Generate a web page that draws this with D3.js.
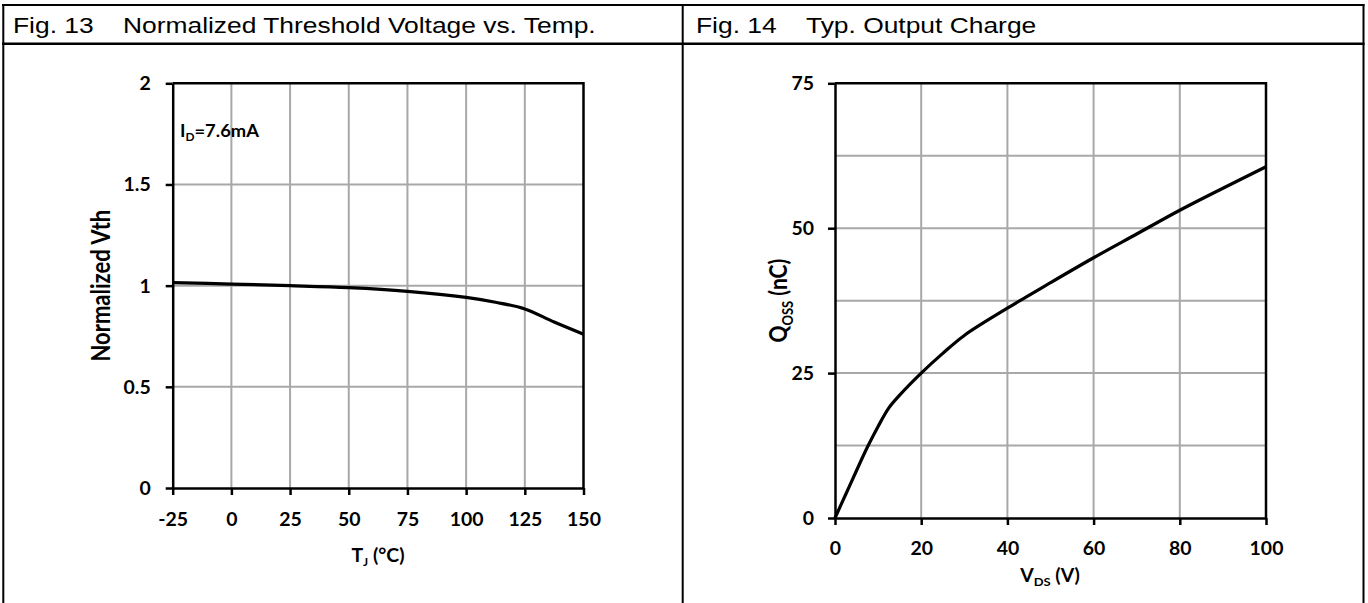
<!DOCTYPE html>
<html>
<head>
<meta charset="utf-8">
<script src="https://cdn.jsdelivr.net/npm/d3@7"></script>
<style>
  html, body { margin: 0; padding: 0; background: #fff; }
  svg { display: block; }
</style>
</head>
<body>
<script>
// ---- Fig. 13: normalized threshold voltage vs. junction temperature ----
const tempC   = [-25, 0, 25, 50, 75, 100, 112.5, 125, 137.5, 150];
const vthNorm = [1.015, 1.008, 1.0, 0.99, 0.972, 0.942, 0.918, 0.885, 0.82, 0.76];
const tempTicks = [-25, 0, 25, 50, 75, 100, 125, 150];
const vthTicks  = [0, 0.5, 1, 1.5, 2];

// ---- Fig. 14: typical output charge vs. drain-source voltage ----
const vds  = [0, 2.5, 5, 7.5, 10, 12.5, 15, 20, 25, 30, 40, 50, 60, 70, 80, 90, 100];
const qoss = [0, 4.1, 8.2, 12.2, 15.8, 19.0, 21.2, 25.0, 28.4, 31.5, 36.2, 40.6, 44.9, 49.0, 53.1, 56.9, 60.6];
const vdsTicks   = [0, 20, 40, 60, 80, 100];
const qossTicks  = [0, 25, 50, 75];
const qossGrid   = [12.5, 25, 37.5, 50, 62.5];

const W = 1368, H = 603;
const SX_HEAD = 1.2;        // horizontal stretch of header text
const SX = 1.08;            // horizontal stretch of chart labels
const FONT = "Lato, 'Open Sans', sans-serif";
const HEAD_FONT = "'Liberation Sans', Arial, sans-serif";
const GRID = "#a8a8a8";

const svg = d3.select("body").append("svg").attr("width", W).attr("height", H);

// text helper: places a horizontally stretched text at (x, y)
function stext(parent, x, y, anchor, size, weight, family, sx = SX) {
  return parent.append("text")
    .attr("transform", `translate(${x},${y}) scale(${sx},1)`)
    .attr("text-anchor", anchor)
    .attr("font-size", size)
    .attr("font-weight", weight)
    .attr("font-family", family)
    .attr("fill", "#000");
}

// plain hyphen for negative numbers
const fmtInt = d => String(d);

// ---- table frame ----
const frame = svg.append("g").attr("stroke", "#000").attr("fill", "none");
frame.append("line").attr("x1", 2).attr("x2", 1364.5).attr("y1", 5).attr("y2", 5).attr("stroke-width", 2);
frame.append("line").attr("x1", 2).attr("x2", 1364.5).attr("y1", 43.7).attr("y2", 43.7).attr("stroke-width", 2.5);
frame.append("line").attr("x1", 3.3).attr("x2", 3.3).attr("y1", 4).attr("y2", H).attr("stroke-width", 2);
frame.append("line").attr("x1", 682.7).attr("x2", 682.7).attr("y1", 4).attr("y2", H).attr("stroke-width", 2);
frame.append("line").attr("x1", 1363.5).attr("x2", 1363.5).attr("y1", 4).attr("y2", H).attr("stroke-width", 2);

stext(svg, 13, 33, "start", 22, "normal", HEAD_FONT, SX_HEAD).text("Fig. 13");
stext(svg, 123, 33, "start", 22, "normal", HEAD_FONT, SX_HEAD).text("Normalized Threshold Voltage vs. Temp.");
stext(svg, 696, 33, "start", 22, "normal", HEAD_FONT, SX_HEAD).text("Fig. 14");
stext(svg, 806, 33, "start", 22, "normal", HEAD_FONT, SX_HEAD).text("Typ. Output Charge");

// ---- generic chart drawer ----
function drawChart(cfg) {
  const g = svg.append("g");
  const { x, y } = cfg;
  const [x0, x1] = x.range(), [y0, y1] = y.range();

  // gridlines
  g.append("g").selectAll("line").data(cfg.xGrid).join("line")
    .attr("x1", d => x(d)).attr("x2", d => x(d)).attr("y1", y0).attr("y2", y1)
    .attr("stroke", GRID).attr("stroke-width", 2);
  g.append("g").selectAll("line").data(cfg.yGrid).join("line")
    .attr("x1", x0).attr("x2", x1).attr("y1", d => y(d)).attr("y2", d => y(d))
    .attr("stroke", GRID).attr("stroke-width", 2);

  // axes
  const ax = g.append("g").attr("transform", `translate(0,${y0})`)
    .call(d3.axisBottom(x).tickValues(cfg.xTicks).tickSize(7).tickSizeOuter(0).tickFormat(fmtInt));
  const ay = g.append("g").attr("transform", `translate(${x0},0)`)
    .call(d3.axisLeft(y).tickValues(cfg.yTicks).tickSize(7).tickSizeOuter(0).tickFormat(fmtInt));
  [ax, ay].forEach(a => {
    a.select(".domain").attr("stroke", "#000").attr("stroke-width", 2.5);
    a.selectAll(".tick line").attr("stroke", "#000").attr("stroke-width", 2.5);
    a.selectAll(".tick text")
      .attr("font-family", FONT).attr("font-weight", 700).attr("font-size", 18).attr("fill", "#000");
  });
  ax.selectAll(".tick text")
    .attr("x", 0).attr("y", 0).attr("dy", "0.36em")
    .attr("transform", `translate(0,${cfg.xLabelOff}) scale(${SX},1)`);
  ay.selectAll(".tick text")
    .attr("x", 0).attr("y", 0).attr("dy", "0.36em")
    .attr("transform", `translate(${-cfg.yLabelOff},0) scale(${SX},1)`);

  // plot frame (top and right edges)
  g.append("path")
    .attr("d", `M${x0},${y1}H${x1}V${y0}`)
    .attr("fill", "none").attr("stroke", "#000").attr("stroke-width", 2.5);

  // curve
  g.append("path")
    .datum(cfg.xs.map((v, i) => [v, cfg.ys[i]]))
    .attr("fill", "none").attr("stroke", "#000").attr("stroke-width", 3.2)
    .attr("stroke-linejoin", "round")
    .attr("d", d3.line().x(d => x(d[0])).y(d => y(d[1])).curve(d3.curveCatmullRom.alpha(0.5)));

  return g;
}

// rotated, stretched axis title
function ytitle(parent, x, y, size) {
  return parent.append("text")
    .attr("transform", `translate(${x},${y}) scale(${SX_HEAD},1) rotate(-90)`)
    .attr("text-anchor", "middle").attr("font-family", FONT).attr("font-weight", 700)
    .attr("font-size", size).attr("fill", "#000");
}

// Fig. 13
const xL = d3.scaleLinear().domain([-25, 150]).range([172.7, 583.5]);
const yL = d3.scaleLinear().domain([0, 2]).range([488, 83.3]);
const gL = drawChart({
  x: xL, y: yL, xs: tempC, ys: vthNorm,
  xTicks: tempTicks, yTicks: vthTicks,
  xGrid: tempTicks.slice(1, -1), yGrid: [0.5, 1, 1.5],
  xLabelOff: 32, yLabelOff: 22
});
// annotation
const ann = stext(gL, 180, 137, "start", 17, 700, FONT);
ann.append("tspan").text("I");
ann.append("tspan").attr("font-size", 11).attr("dy", 4).text("D");
ann.append("tspan").attr("dy", -4).text("=7.6mA");
// axis titles
const tl = stext(gL, 378, 562, "middle", 18, 700, FONT);
tl.append("tspan").text("T");
tl.append("tspan").attr("font-size", 11).attr("dy", 4).text("J");
tl.append("tspan").attr("dy", -4).text(" (°C)");
ytitle(gL, 110, (83.3 + 488) / 2, 22).text("Normalized Vth");

// Fig. 14
const xR = d3.scaleLinear().domain([0, 100]).range([835, 1266]);
const yR = d3.scaleLinear().domain([0, 75]).range([518, 83.3]);
const gR = drawChart({
  x: xR, y: yR, xs: vds, ys: qoss,
  xTicks: vdsTicks, yTicks: qossTicks,
  xGrid: vdsTicks.slice(1, -1), yGrid: qossGrid,
  xLabelOff: 31, yLabelOff: 21
});
const tr = stext(gR, 1050, 582, "middle", 18, 700, FONT);
tr.append("tspan").text("V");
tr.append("tspan").attr("font-size", 12).attr("dy", 4).text("DS");
tr.append("tspan").attr("dy", -4).text(" (V)");
const qt = ytitle(gR, 787, (83.3 + 518) / 2, 21);
qt.append("tspan").text("Q");
qt.append("tspan").attr("font-size", 13).attr("dy", 5).text("OSS");
qt.append("tspan").attr("dy", -5).text(" (nC)");
</script>
</body>
</html>
